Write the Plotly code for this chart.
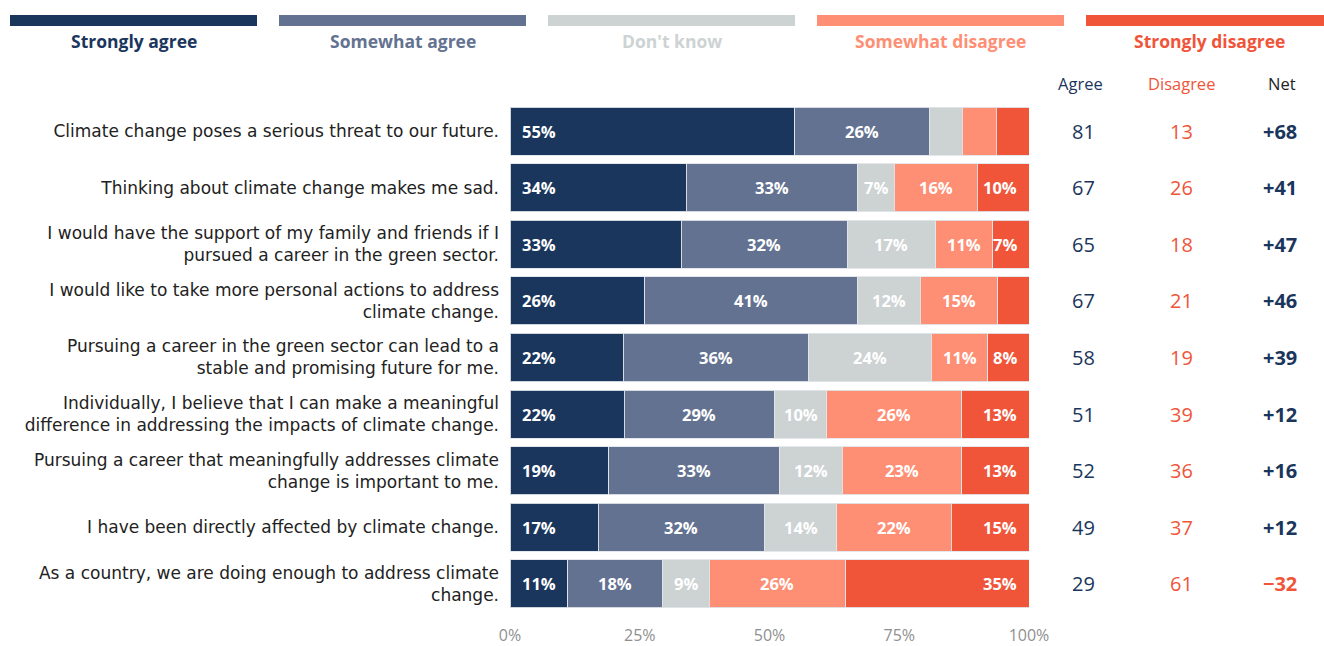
import plotly.graph_objects as go

# Survey statements (top to bottom)
categories = [
    "Climate change poses a serious threat to our future.",
    "Thinking about climate change makes me sad.",
    "I would have the support of my family and friends if I<br>pursued a career in the green sector.",
    "I would like to take more personal actions to address<br>climate change.",
    "Pursuing a career in the green sector can lead to a<br>stable and promising future for me.",
    "Individually, I believe that I can make a meaningful<br>difference in addressing the impacts of climate change.",
    "Pursuing a career that meaningfully addresses climate<br>change is important to me.",
    "I have been directly affected by climate change.",
    "As a country, we are doing enough to address climate<br>change.",
]

# Response shares (%)
strongly_agree = [55, 34, 33, 26, 22, 22, 19, 17, 11]
somewhat_agree = [26, 33, 32, 41, 36, 29, 33, 32, 18]
dont_know = [6.4, 7, 17, 12, 24, 10, 12, 14, 9]
somewhat_disagree = [6.6, 16, 11, 15, 11, 26, 23, 22, 26]
strongly_disagree = [6.3, 10, 7, 6, 8, 13, 13, 15, 35]

# Summary columns
agree_total = [81, 67, 65, 67, 58, 51, 52, 49, 29]
disagree_total = [13, 26, 18, 21, 19, 39, 36, 37, 61]
net_score = [68, 41, 47, 46, 39, 12, 16, 12, -32]

# Axis ticks
tick_values = [0, 25, 50, 75, 100]
tick_labels = ["0%", "25%", "50%", "75%", "100%"]

series_names = ["Strongly agree", "Somewhat agree", "Don't know",
                "Somewhat disagree", "Strongly disagree"]
series_values = [strongly_agree, somewhat_agree, dont_know,
                 somewhat_disagree, strongly_disagree]
series_colors = ["#1b365d", "#647291", "#cdd2d3", "#fe8e74", "#f0553a"]

NAVY = "#1b365d"
RED = "#f0553a"
FONT = "Open Sans"
LABEL_FONT = "DejaVu Sans"

W, H = 1324, 646
M_L, M_R, M_T, M_B = 510, 295, 103, 34
PLOT_W = W - M_L - M_R
PLOT_H = H - M_T - M_B


def px(x):
    """Pixel x -> paper x."""
    return (x - M_L) / PLOT_W


def py(y):
    """Pixel y -> paper y."""
    return (H - M_B - y) / PLOT_H


fig = go.Figure()
for name, vals, color in zip(series_names, series_values, series_colors):
    fig.add_trace(go.Bar(
        name=name, y=categories, x=vals, orientation="h",
        marker=dict(color=color, line=dict(color="rgba(225,229,234,0.9)", width=1)),
        hoverinfo="skip", showlegend=False,
    ))

annotations = []

# Segment labels, placed on the normalised (100%) scale
n_series = len(series_values)
for i, cat in enumerate(categories):
    row = [s[i] for s in series_values]
    total = sum(row)
    start = 0.0
    for j, v in enumerate(row):
        share = v / total * 100
        if v >= 7:
            label = f"{round(v)}%"
            if j == 0:
                ax, anchor, shift = start, "left", 10
            elif j == n_series - 1:
                ax, anchor, shift = start + share, "right", -10
            else:
                ax, anchor, shift = start + share / 2, "center", 0
            annotations.append(dict(
                x=ax, y=cat, xref="x", yref="y", text=label, showarrow=False,
                xanchor=anchor, xshift=shift,
                font=dict(family=FONT, size=16.5, color="white", weight="bold"),
            ))
        start += share

# Summary column headers
for label, xc, color in [("Agree", 1080, NAVY), ("Disagree", 1181, RED), ("Net", 1282, "#222222")]:
    annotations.append(dict(
        x=px(xc), y=py(83), xref="paper", yref="paper", text=label,
        showarrow=False, xanchor="center", yanchor="middle",
        font=dict(family=FONT, size=16.5, color=color),
    ))

# Summary column values
for i, cat in enumerate(categories):
    annotations.append(dict(
        x=px(1083), y=cat, xref="paper", yref="y", text=str(agree_total[i]),
        showarrow=False, xanchor="center",
        font=dict(family=FONT, size=20, color=NAVY),
    ))
    annotations.append(dict(
        x=px(1181), y=cat, xref="paper", yref="y", text=str(disagree_total[i]),
        showarrow=False, xanchor="center",
        font=dict(family=FONT, size=20, color=RED),
    ))
    n = net_score[i]
    net_txt = f"+{n}" if n > 0 else f"\u2212{abs(n)}"
    annotations.append(dict(
        x=px(1280), y=cat, xref="paper", yref="y", text=net_txt,
        showarrow=False, xanchor="center",
        font=dict(family=FONT, size=20, color=NAVY if n > 0 else RED, weight="bold"),
    ))

# Top key: a wide colour band with the response label underneath
shapes = []
key_left = 10
key_width = 247
key_gap = 22
for k, (name, color) in enumerate(zip(series_names, series_colors)):
    x0 = key_left + k * (key_width + key_gap)
    x1 = x0 + key_width
    shapes.append(dict(
        type="rect", xref="paper", yref="paper",
        x0=px(x0), x1=px(x1), y0=py(26), y1=py(15),
        fillcolor=color, line=dict(width=0), layer="above",
    ))
    annotations.append(dict(
        x=px((x0 + x1) / 2), y=py(41), xref="paper", yref="paper", text=name,
        showarrow=False, xanchor="center", yanchor="middle",
        font=dict(family=FONT, size=17.5, color=color, weight="bold"),
    ))

fig.update_layout(
    width=W, height=H,
    margin=dict(l=M_L, r=M_R, t=M_T, b=M_B),
    barmode="stack", barnorm="percent", bargap=0.15,
    plot_bgcolor="white", paper_bgcolor="white",
    font=dict(family=FONT, color="#222222"),
    annotations=annotations, shapes=shapes,
    xaxis=dict(
        range=[0, 100], tickmode="array", tickvals=tick_values, ticktext=tick_labels,
        showgrid=False, zeroline=False, showline=False, ticks="",
        tickfont=dict(family=FONT, size=16, color="#8f8f8f"),
        ticklabelstandoff=12, fixedrange=True, automargin=False,
    ),
    yaxis=dict(
        autorange="reversed", showgrid=False, zeroline=False, showline=False,
        ticks="", tickfont=dict(family=LABEL_FONT, size=17, color="#222222"),
        ticklabelstandoff=10, fixedrange=True, automargin=False,
    ),
)

fig.write_html("out.html")
